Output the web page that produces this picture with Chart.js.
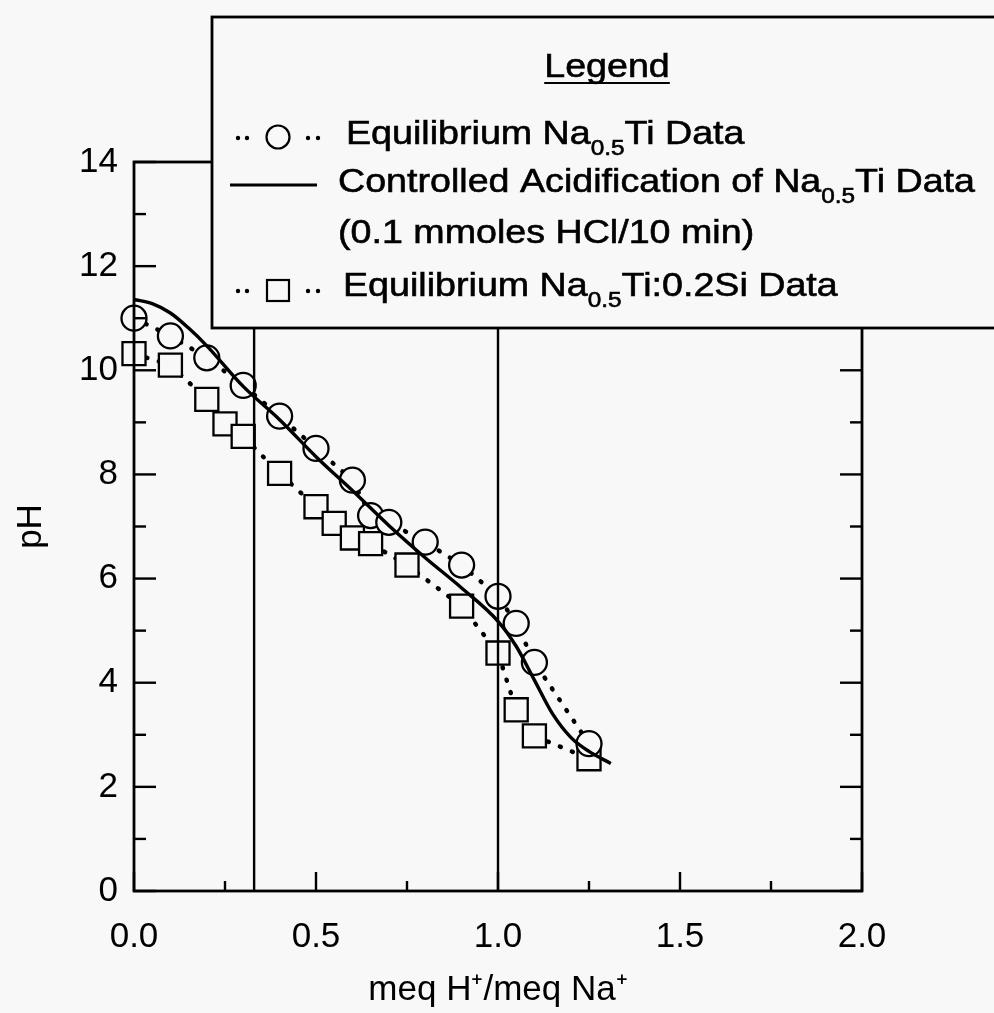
<!DOCTYPE html>
<html><head><meta charset="utf-8">
<script src="https://cdn.jsdelivr.net/npm/chart.js@4/dist/chart.umd.min.js"></script>
<style>html,body{margin:0;padding:0;background:#f8f8f8;}#wrap{width:994px;height:1013px;}</style>
</head><body><div id="wrap"><canvas id="c" width="994" height="1013"></canvas></div>
<script>
// ---- data ----
const xTickValues = [0, 0.5, 1.0, 1.5, 2.0];
const xMinorTicks = [0.25, 0.75, 1.25, 1.75];
const yTickValues = [0, 2, 4, 6, 8, 10, 12, 14];
const yMinorTicks = [1, 3, 5, 7, 9, 11, 13];
const markerLinesX = [0.33, 1.0];

const naTiX  = [0, 0.1, 0.2, 0.3, 0.4, 0.5, 0.6, 0.65, 0.7, 0.8, 0.9, 1.0, 1.05, 1.1, 1.25];
const naTiPH = [11.0, 10.66, 10.24, 9.71, 9.12, 8.50, 7.89, 7.21, 7.08, 6.70, 6.26, 5.66, 5.14, 4.39, 2.83];

const naTiSiX  = [0, 0.1, 0.2, 0.25, 0.3, 0.4, 0.5, 0.55, 0.6, 0.65, 0.75, 0.9, 1.0, 1.05, 1.1, 1.25];
const naTiSiPH = [10.32, 10.10, 9.44, 8.97, 8.73, 8.02, 7.38, 7.06, 6.78, 6.67, 6.26, 5.47, 4.57, 3.48, 2.98, 2.54];

const acidX  = [0, 0.05, 0.1, 0.15, 0.2, 0.3, 0.4, 0.5, 0.6, 0.7, 0.8, 0.9, 1.0, 1.05, 1.1, 1.15, 1.2, 1.25, 1.31];
const acidPH = [11.36, 11.28, 11.10, 10.81, 10.47, 9.69, 9.05, 8.34, 7.69, 7.02, 6.40, 5.82, 5.18, 4.70, 4.05, 3.40, 2.95, 2.68, 2.45];

const xTitle = 'meq H\u207A/meq Na\u207A';
const yTitle = 'pH';
const legendTitle = 'Legend';
const legendLine1 = [{t:'Equilibrium Na'},{t:'0.5',sub:true},{t:'Ti Data'}];
const legendLine2 = [{t:'Controlled Acidification of Na'},{t:'0.5',sub:true},{t:'Ti Data'}];
const legendLine3 = [{t:'(0.1 mmoles HCl/10 min)'}];
const legendLine4 = [{t:'Equilibrium Na'},{t:'0.5',sub:true},{t:'Ti:0.2Si Data'}];

const BG = '#f8f8f8';
const FAM = '"Liberation Sans", Arial, Helvetica, sans-serif';
const pts = (xs, ys) => xs.map((x, i) => ({x, y: ys[i]}));

const MAIN_FONT = '34px ' + FAM;
const SUB_FONT = '22px ' + FAM;
function richWidth(ctx, parts) {
  let w = 0;
  for (const p of parts) { ctx.font = p.sub ? SUB_FONT : MAIN_FONT; w += ctx.measureText(p.t).width; }
  return w;
}
function drawRich(ctx, x, yb, parts, sx) {
  ctx.save(); ctx.translate(x, yb); ctx.scale(sx, 1);
  ctx.textBaseline = 'alphabetic'; ctx.textAlign = 'left'; ctx.fillStyle = '#000';
  ctx.strokeStyle = '#000'; ctx.lineWidth = 0.6;
  let cx = 0;
  for (const p of parts) {
    ctx.font = p.sub ? SUB_FONT : MAIN_FONT;
    ctx.fillText(p.t, cx, p.sub ? 11 : 0);
    ctx.strokeText(p.t, cx, p.sub ? 11 : 0);
    cx += ctx.measureText(p.t).width;
  }
  ctx.restore();
}
function line(ctx, x1, y1, x2, y2) { ctx.beginPath(); ctx.moveTo(x1, y1); ctx.lineTo(x2, y2); ctx.stroke(); }

const deco = {
  id: 'deco',
  beforeDraw(chart) {
    const ctx = chart.ctx; ctx.save(); ctx.fillStyle = BG; ctx.fillRect(0, 0, chart.width, chart.height); ctx.restore();
  },
  afterDatasetsDraw(chart) {
    const {ctx, chartArea: a, scales: {x, y}} = chart;
    ctx.save();
    ctx.strokeStyle = '#000'; ctx.fillStyle = '#000';
    ctx.lineWidth = 2.4;
    for (const v of markerLinesX) { const px = x.getPixelForValue(v); line(ctx, px, a.top, px, a.bottom); }
    ctx.lineWidth = 2.8;
    ctx.strokeRect(a.left, a.top, a.right - a.left, a.bottom - a.top);
    ctx.lineWidth = 2.4;
    for (const v of yTickValues) { const py = y.getPixelForValue(v); line(ctx, a.left, py, a.left + 22, py); line(ctx, a.right, py, a.right - 22, py); }
    for (const v of yMinorTicks) { const py = y.getPixelForValue(v); line(ctx, a.left, py, a.left + 12, py); line(ctx, a.right, py, a.right - 12, py); }
    for (const v of xTickValues) { const px = x.getPixelForValue(v); line(ctx, px, a.bottom, px, a.bottom - 19); }
    for (const v of xMinorTicks) { const px = x.getPixelForValue(v); line(ctx, px, a.bottom, px, a.bottom - 10); }

    // legend box
    const L = 212, T = 17, B = 328;
    ctx.fillStyle = BG; ctx.fillRect(L, T, chart.width - L + 10, B - T);
    ctx.lineWidth = 2.8; ctx.strokeRect(L, T, chart.width - L + 10, B - T);
    const sx = 637 / richWidth(ctx, legendLine2);
    ctx.font = MAIN_FONT;
    const tw = ctx.measureText(legendTitle).width * sx;
    drawRich(ctx, 607 - tw / 2, 77, [{t: legendTitle}], sx);
    ctx.lineWidth = 2.2; line(ctx, 607 - tw / 2, 83, 607 + tw / 2, 83);
    drawRich(ctx, 346, 144, legendLine1, sx);
    drawRich(ctx, 338, 192, legendLine2, sx);
    drawRich(ctx, 338, 243, legendLine3, sx);
    drawRich(ctx, 343, 296, legendLine4, sx);
    ctx.fillStyle = '#000';
    const dots = (yy) => { for (const dx of [238, 247, 308, 318]) { ctx.beginPath(); ctx.arc(dx, yy, 2.2, 0, Math.PI * 2); ctx.fill(); } };
    dots(138); dots(291);
    ctx.lineWidth = 2.2; ctx.beginPath(); ctx.arc(278, 137, 11.5, 0, Math.PI * 2); ctx.stroke();
    ctx.strokeRect(267, 280, 22, 21);
    ctx.lineWidth = 3.2; line(ctx, 230, 185, 317, 185);
    ctx.restore();
  }
};

new Chart(document.getElementById('c'), {
  type: 'scatter',
  data: {
    datasets: [
      { label: 'Controlled Acidification of Na0.5Ti Data', data: pts(acidX, acidPH), showLine: true,
        borderColor: '#000', borderWidth: 3.4, pointRadius: 0, cubicInterpolationMode: 'monotone', order: 0, clip: false },
      { label: 'Equilibrium Na0.5Ti Data', data: pts(naTiX, naTiPH), showLine: true,
        borderColor: '#000', borderWidth: 4.5, borderDash: [1, 12], borderCapStyle: 'round',
        pointStyle: 'circle', pointRadius: 12.5, pointBorderWidth: 2.3, pointBorderColor: '#000', pointBackgroundColor: BG, order: 1, clip: false },
      { label: 'Equilibrium Na0.5Ti:0.2Si Data', data: pts(naTiSiX, naTiSiPH), showLine: true,
        borderColor: '#000', borderWidth: 4.5, borderDash: [1, 12], borderCapStyle: 'round',
        pointStyle: 'rect', pointRadius: 16.3, pointBorderWidth: 2.3, pointBorderColor: '#000', pointBackgroundColor: BG, order: 2, clip: false }
    ]
  },
  options: {
    responsive: false, animation: false, devicePixelRatio: 1,
    layout: { padding: { left: 0, top: 162, right: 132, bottom: 0 } },
    plugins: { legend: { display: false }, tooltip: { enabled: false } },
    scales: {
      x: { type: 'linear', min: 0, max: 2,
        afterBuildTicks: (s) => { s.ticks = xTickValues.map(v => ({value: v})); },
        afterFit: (s) => { s.height = 122; },
        grid: { display: false, drawTicks: false }, border: { display: false },
        ticks: { color: '#000', font: { family: FAM, size: 35 }, padding: 25, maxRotation: 0,
          callback: (v) => Number(v).toFixed(1) },
        title: { display: true, text: xTitle, color: '#000', font: { family: FAM, size: 35, lineHeight: 1.0 }, padding: { top: 0, bottom: 5 } } },
      y: { type: 'linear', min: 0, max: 14,
        afterBuildTicks: (s) => { s.ticks = yTickValues.map(v => ({value: v})); },
        afterFit: (s) => { s.width = 134; },
        grid: { display: false, drawTicks: false }, border: { display: false },
        ticks: { color: '#000', font: { family: FAM, size: 35 }, padding: 16 },
        title: { display: true, text: yTitle, color: '#000', font: { family: FAM, size: 35, lineHeight: 1.2 }, padding: { top: 10, bottom: 0 } } }
    }
  },
  plugins: [deco]
});
</script></body></html>
